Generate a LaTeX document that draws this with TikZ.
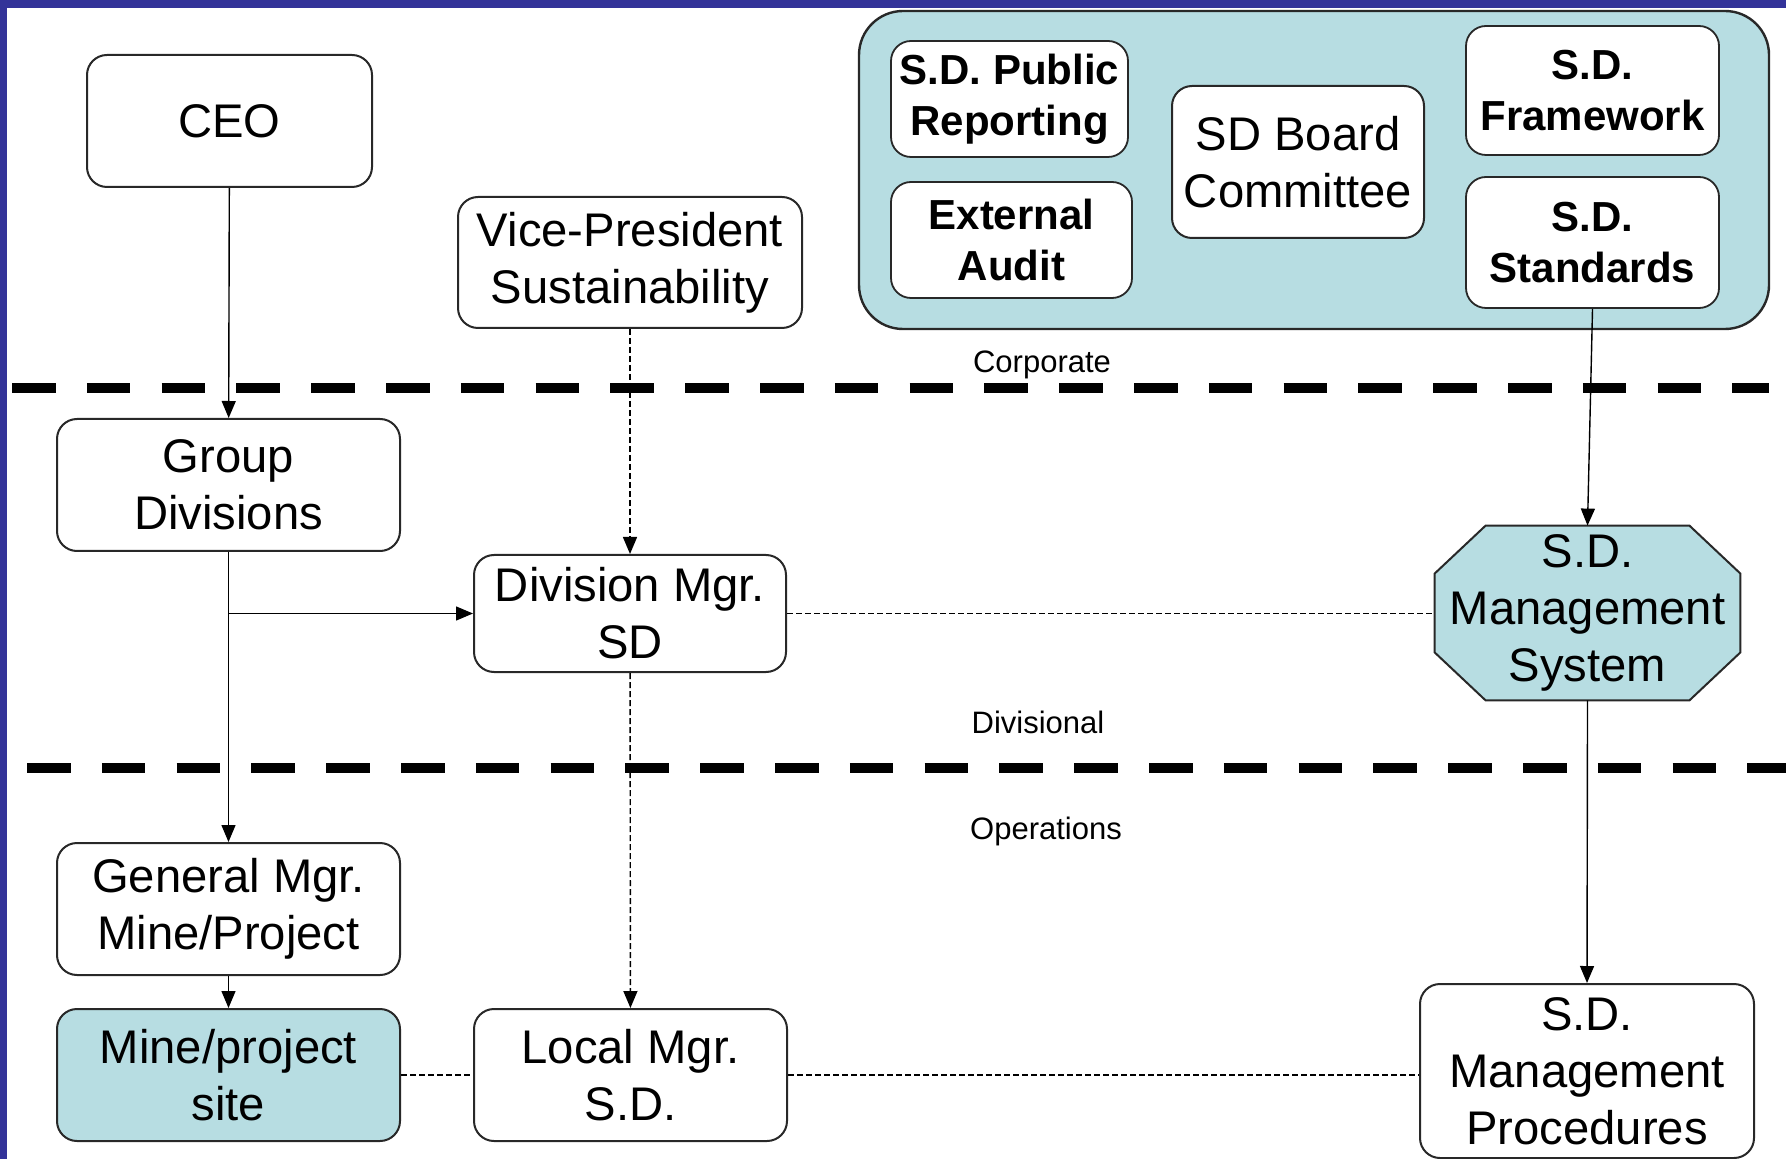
\documentclass[tikz,border=0pt]{standalone}
\usepackage{fontspec}
\setmainfont{Liberation Sans}
\usetikzlibrary{arrows.meta,backgrounds,calc}
\definecolor{slideblue}{HTML}{333399}
\definecolor{paleteal}{RGB}{183,221,226}
\definecolor{edge}{RGB}{40,40,40}
\begin{document}
\begin{tikzpicture}[x=0.5pt,y=-0.5pt,
  box/.style={draw=edge, line width=1pt, rounded corners=10pt, fill=white, align=center,
              inner sep=0pt, font={\fontsize{23.6}{28.5}\selectfont}},
  bbox/.style={box, line width=0.9pt, font={\fontsize{21}{25.4}\selectfont\bfseries}},
  lab/.style={inner sep=0pt, font={\fontsize{15.5}{18}\selectfont}},
  solidarrow/.style={-{Triangle[length=8.5pt,width=7pt]}, line width=0.7pt},
  dasharrow/.style={solidarrow, dash pattern=on 3pt off 1.5pt},
  dline/.style={line width=0.7pt, dash pattern=on 3pt off 1.5pt},
  sepline/.style={line width=5pt, dash pattern=on 21.75pt off 15.65pt}
]
% page
\begin{scope}[on background layer]
\fill[white] (0,0) rectangle (1786,1159);
\end{scope}
\useasboundingbox (0,0) rectangle (1786,1159);
\fill[slideblue] (0,0) rectangle (1786,8);
\fill[slideblue] (0,0) rectangle (7,1159);

% separators
\draw[sepline] (12,388) -- (1769,388);
\draw[sepline] (27,767.5) -- (1786,767.5);

% level labels
\node[lab] (corp) at (1042,365) {Corporate};
\node[lab] (divl) at (1038,722) {Divisional};
\node[lab] (oper) at (1046,831) {Operations};

% corporate container
\node[draw=edge, line width=1.2pt, rounded corners=22pt, fill=paleteal, inner sep=0pt,
      minimum width=455pt, minimum height=159pt] (cont) at (1314,170) {};
\node[bbox, minimum width=118.5pt, minimum height=58pt] (pub) at (1009.5,99) {S.D. Public\\Reporting};
\node[bbox, minimum width=120.5pt, minimum height=58pt] (ext) at (1011.5,240) {External\\Audit};
\node[box, minimum width=126pt, minimum height=76pt] (board) at (1298,162) {SD Board\\Committee};
\node[bbox, minimum width=126.5pt, minimum height=64.5pt] (frame) at (1592.5,90.5) {S.D.\\Framework};
\node[bbox, minimum width=126.5pt, minimum height=65.5pt] (stand) at (1592.5,242.5) {S.D.\\Standards};

% left hierarchy
\node[box, minimum width=142.5pt, minimum height=66pt] (ceo) at (229.5,121) {CEO};
\node[box, minimum width=172pt, minimum height=65.5pt] (vp) at (630,262.5) {Vice-President\\Sustainability};
\node[box, minimum width=171.5pt, minimum height=66pt] (gd) at (228.5,485) {Group\\Divisions};
\node[box, minimum width=156pt, minimum height=58.5pt] (dm) at (630,613.5) {Division Mgr.\\SD};
\node[box, minimum width=171.5pt, minimum height=66pt] (gm) at (228.5,909) {General Mgr.\\Mine/Project};
\node[box, fill=paleteal, minimum width=171.5pt, minimum height=66pt] (site) at (228.5,1075) {Mine/project\\site};
\node[box, minimum width=156.5pt, minimum height=66pt] (lm) at (630.5,1075) {Local Mgr.\\S.D.};
\node[box, minimum width=167pt, minimum height=87pt] (proc) at (1587,1071) {S.D.\\Management\\Procedures};

% octagon: management system
\node[inner sep=0pt, align=center, minimum width=152.5pt, minimum height=87pt,
      font={\fontsize{23.6}{28.5}\selectfont}] (oct) at (1587.5,613) {S.D.\\Management\\System};
\begin{scope}[on background layer]
\draw[draw=edge, line width=1pt, fill=paleteal]
  ([xshift=25.5pt]oct.north west) -- ([xshift=-25.5pt]oct.north east)
  -- ([yshift=-24pt]oct.north east) -- ([yshift=24pt]oct.south east)
  -- ([xshift=-25.5pt]oct.south east) -- ([xshift=25.5pt]oct.south west)
  -- ([yshift=24pt]oct.south west) -- ([yshift=-24pt]oct.north west) -- cycle;
\end{scope}

% connectors
\coordinate (br) at (gd.south |- dm.west);
\draw[solidarrow] (ceo) -- (gd);
\draw[solidarrow] (gd) -- (gm);
\draw[solidarrow] (br) -- (dm.west);
\draw[solidarrow] (gm) -- (site);
\draw[dasharrow] (vp) -- (dm);
\draw[dasharrow] (dm) -- (lm);
\draw[dline] (dm.east) -- (dm.east -| oct.west);
\draw[solidarrow] (stand.south) -- (oct.north);
\draw[solidarrow] (oct.south) -- (proc.north);
\draw[dline] (site.east) -- (lm.west);
\draw[dline, line width=1.1pt] (lm.east) -- (lm.east -| proc.west);
\end{tikzpicture}
\end{document}
